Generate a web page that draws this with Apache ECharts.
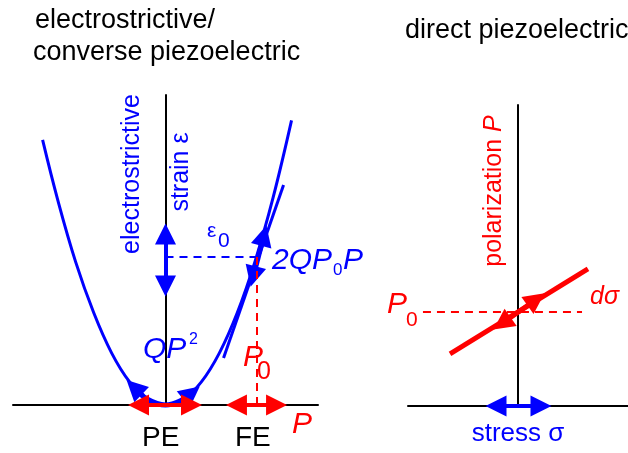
<!DOCTYPE html>
<html>
<head>
    <meta charset="utf-8">
    <title>electrostrictive / piezoelectric</title>
    <script src="https://cdn.jsdelivr.net/npm/echarts@6/dist/echarts.min.js"></script>
</head>
<body style="margin:0">
    <div id="main" style="width:628px;height:453px;"></div>
    <script type="text/javascript">
        var myChart = echarts.init(document.getElementById('main'));

        // left panel: polarization P (in units of P0) against strain
        const parabolaP = [-1.37, -1.2, -1.0, -0.8, -0.6, -0.4, -0.2, 0, 0.2, 0.4, 0.6, 0.8, 1.0, 1.2, 1.405];
        const parabolaS = [1.71, 1.32, 0.92, 0.595, 0.335, 0.149, 0.037, 0, 0.037, 0.149, 0.335, 0.595, 0.93, 1.339, 1.836];
        // thick piece of the parabola around the vertex (PE switching)
        const vertexP = [-0.35, -0.2, 0, 0.2, 0.29];
        const vertexS = [0.114, 0.037, 0, 0.037, 0.078];
        const vertexHeads = [[[-0.25, 0.058], [-0.35, 0.114]], [[0.2, 0.037], [0.29, 0.078]]];
        const tangentLine = [[0.647, 0.303], [1.316, 1.419]];
        const tangentArrow = [[0.978, 0.829], [1.096, 1.093]];
        const strainArrow = [[0, 0.767], [0, 1.103]];
        const eps0Dash = [[0, 0.955], [1.015, 0.955]];
        const p0Dash = [[1.015, 0.955], [1.015, 0]];
        const peArrow = [[-0.301, 0], [0.290, 0]];
        const feArrow = [[0.791, 0], [1.238, 0]];

        // right panel: stress against polarization
        const pLine = [[-0.618, 0.553], [0.636, 1.457]];
        const pArrow = [[-0.145, 0.877], [0.164, 1.133]];
        const p0DashR = [[-0.864, 1], [0.582, 1]];
        const stressArrow = [[-0.200, 0], [0.209, 0]];

        const BLUE = '#0000ff', RED = '#ff0000';
        const FONT = "'Liberation Sans', Arial, sans-serif";
        const HEAD = 'path://M0,0L7,21L-7,21Z';

        const seg = (coords, color, width, ends, grid, dash) => ({
            type: 'lines',
            coordinateSystem: 'cartesian2d',
            xAxisIndex: grid, yAxisIndex: grid,
            symbol: ends || ['none', 'none'],
            symbolSize: 21,
            symbolKeepAspect: true,
            clip: false,
            silent: true,
            z: 5,
            lineStyle: { color: color, width: width, type: dash ? [8, 6] : 'solid', opacity: 1, curveness: 0 },
            data: [{ coords: coords }]
        });

        const axisX = (grid, min, max) => ({
            type: 'value', gridIndex: grid, min: min, max: max,
            axisLine: { show: true, onZero: false, lineStyle: { color: '#000', width: 2 } },
            axisTick: { show: false }, axisLabel: { show: false }, splitLine: { show: false }
        });
        const axisY = (grid, min, max) => ({
            type: 'value', gridIndex: grid, min: min, max: max,
            axisLine: { show: true, onZero: true, lineStyle: { color: '#000', width: 2 } },
            axisTick: { show: false }, axisLabel: { show: false }, splitLine: { show: false }
        });

        const txt = (text, x, y, color, size, opts) => Object.assign({
            type: 'text', x: x, y: y, silent: true, z: 10,
            style: Object.assign({
                text: text, fill: color,
                font: (opts && opts.italic ? 'italic ' : '') + size + 'px ' + FONT,
                textAlign: 'left', textVerticalAlign: 'middle'
            }, opts && opts.style)
        }, opts && opts.el);

        const vertical = { el: { rotation: Math.PI / 2 }, style: { textAlign: 'center' } };

        var option = {
            animation: false,
            grid: [
                { left: 13, top: 95, width: 305, height: 310 },
                { left: 408, top: 105, width: 220, height: 301 }
            ],
            xAxis: [axisX(0, -1.7, 1.7), axisX(1, -1, 1)],
            yAxis: [axisY(0, 0, 2), axisY(1, 0, 3.2)],
            series: [
                {
                    type: 'line', xAxisIndex: 0, yAxisIndex: 0,
                    data: parabolaP.map((p, i) => [p, parabolaS[i]]),
                    smooth: 0.4, showSymbol: false, clip: false, silent: true, z: 4,
                    lineStyle: { color: BLUE, width: 3 }
                },
                {
                    type: 'line', xAxisIndex: 0, yAxisIndex: 0,
                    data: vertexP.map((p, i) => [p, vertexS[i]]),
                    smooth: 0.4, showSymbol: false, clip: false, silent: true, z: 4,
                    lineStyle: { color: BLUE, width: 5 }
                },
                seg(vertexHeads[0], BLUE, 5, ['none', HEAD], 0),
                seg(vertexHeads[1], BLUE, 5, ['none', HEAD], 0),
                seg(tangentLine, BLUE, 3, null, 0),
                seg(tangentArrow, BLUE, 5, [HEAD, HEAD], 0),
                seg(strainArrow, BLUE, 4, [HEAD, HEAD], 0),
                seg(eps0Dash, BLUE, 2, null, 0, true),
                seg(p0Dash, RED, 2, null, 0, true),
                seg(peArrow, RED, 4, [HEAD, HEAD], 0),
                seg(feArrow, RED, 4, [HEAD, HEAD], 0),
                seg(p0DashR, RED, 2, null, 1, true),
                seg(pLine, RED, 5, null, 1),
                seg(pArrow, RED, 5, [HEAD, HEAD], 1),
                seg(stressArrow, BLUE, 4, [HEAD, HEAD], 1)
            ],
            graphic: [
                txt('electrostrictive/', 35, 21, '#000', 27),
                txt('converse piezoelectric', 33, 53, '#000', 27),
                txt('direct piezoelectric', 405, 31, '#000', 27),
                txt('electrostrictive', 132, 174, BLUE, 25, vertical),
                txt('strain \u03b5', 181, 172, BLUE, 25, vertical),
                txt('{a|polarization }{b|P}', 494, 191, RED, 25, {
                    el: { rotation: Math.PI / 2 },
                    style: {
                        textAlign: 'center',
                        rich: {
                            a: { fill: RED, font: '25px ' + FONT },
                            b: { fill: RED, font: 'italic 25px ' + FONT }
                        }
                    }
                }),
                txt('\u03b5', 207, 231, BLUE, 21),
                txt('0', 218, 241, BLUE, 21),
                txt('2QP', 272, 261, BLUE, 30, { italic: true }),
                txt('0', 333, 270, BLUE, 17),
                txt('P', 343, 261, BLUE, 30, { italic: true }),
                txt('QP', 143, 350, BLUE, 30, { italic: true }),
                txt('2', 189, 340, BLUE, 16),
                txt('P', 243, 358, RED, 30, { italic: true }),
                txt('0', 257, 372, RED, 25),
                txt('P', 292, 425, RED, 30, { italic: true }),
                txt('PE', 142, 438, '#000', 28),
                txt('FE', 235, 438, '#000', 28),
                txt('P', 387, 305, RED, 30, { italic: true }),
                txt('0', 406, 320, RED, 21),
                txt('d\u03c3', 590, 297, RED, 25, { italic: true }),
                txt('stress \u03c3', 518, 434, BLUE, 26, { style: { textAlign: 'center' } })
            ]
        };

        myChart.setOption(option);
    </script>
</body>
</html>
